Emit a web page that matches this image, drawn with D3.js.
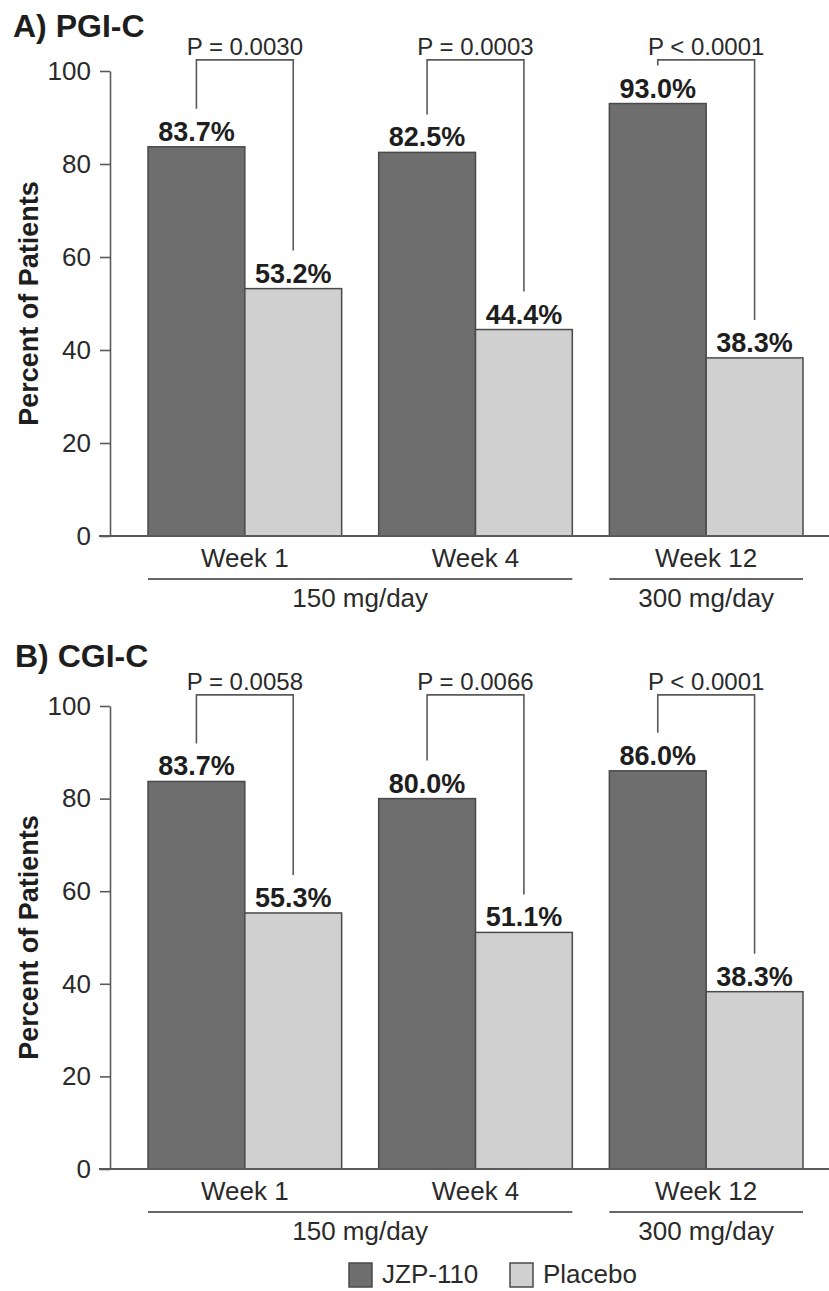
<!DOCTYPE html>
<html>
<head>
<meta charset="utf-8">
<script src="https://cdn.jsdelivr.net/npm/d3@7/dist/d3.min.js"></script>
<style>
  html, body { margin: 0; padding: 0; background: #fff; }
  svg { display: block; font-family: "Liberation Sans", Arial, sans-serif; }
</style>
</head>
<body>
<svg id="chart" width="829" height="1291"></svg>
<script>
// ---- data ----
const weeks = ["Week 1", "Week 4", "Week 12"];
const series = ["JZP-110", "Placebo"];
const yTicks = [0, 20, 40, 60, 80, 100];
const panelTitles = ["A) PGI-C", "B) CGI-C"];
const pgicJZP = [83.7, 82.5, 93.0];
const pgicPlacebo = [53.2, 44.4, 38.3];
const cgicJZP = [83.7, 80.0, 86.0];
const cgicPlacebo = [55.3, 51.1, 38.3];
const pgicP = ["P = 0.0030", "P = 0.0003", "P < 0.0001"];
const cgicP = ["P = 0.0058", "P = 0.0066", "P < 0.0001"];
const doseGroups = [
  { label: "150 mg/day", weeks: ["Week 1", "Week 4"] },
  { label: "300 mg/day", weeks: ["Week 12"] }
];
const yTitle = "Percent of Patients";

// ---- styles ----
const colors = { "JZP-110": "#6e6e6e", "Placebo": "#d0d0d0" };
const strokeCol = "#4a4a4a";
const lineCol = "#5a5a5a";
const textCol = "#1e1e1e";

const svg = d3.select("#chart");

const x = d3.scaleBand().domain(weeks).range([148, 803]).paddingInner(0.1605).paddingOuter(0);
const xs = d3.scaleBand().domain(series).range([0, x.bandwidth()]).padding(0);

const panels = [
  { title: panelTitles[0], jzp: pgicJZP, pla: pgicPlacebo, p: pgicP, top: 71, bottom: 536, titleY: 37 },
  { title: panelTitles[1], jzp: cgicJZP, pla: cgicPlacebo, p: cgicP, top: 706, bottom: 1169, titleY: 667 }
];

panels.forEach((pn, pi) => {
  const y = d3.scaleLinear().domain([0, 100]).range([pn.bottom, pn.top]);
  const g = svg.append("g");

  // title
  g.append("text").attr("x", pi === 0 ? 13 : 15).attr("y", pn.titleY)
    .attr("font-size", 32).attr("font-weight", "bold").attr("fill", textCol)
    .text(pn.title);

  // y axis
  const ax = g.append("g").attr("transform", "translate(110,0)")
    .call(d3.axisLeft(y).tickValues(yTicks).tickSize(10).tickSizeOuter(0).tickPadding(9));
  ax.select(".domain").attr("stroke", lineCol).attr("stroke-width", 1.6);
  ax.selectAll(".tick line").attr("stroke", lineCol).attr("stroke-width", 1.6);
  ax.selectAll(".tick text").attr("font-size", 26).attr("fill", "#2a2a2a")
    .attr("font-family", "'Liberation Sans', Arial, sans-serif");

  // y title
  g.append("text")
    .attr("transform", `translate(38,${(pn.top + pn.bottom) / 2}) rotate(-90)`)
    .attr("text-anchor", "middle").attr("font-size", 27).attr("font-weight", "bold")
    .attr("fill", textCol).text(yTitle);

  // bars
  const rows = weeks.map((w, i) => ({ week: w, vals: [
    { s: "JZP-110", v: pn.jzp[i] }, { s: "Placebo", v: pn.pla[i] }], p: pn.p[i] }));

  const grp = g.selectAll(".grp").data(rows).join("g")
    .attr("transform", d => `translate(${x(d.week)},0)`);

  grp.selectAll("rect").data(d => d.vals).join("rect")
    .attr("x", d => xs(d.s)).attr("width", xs.bandwidth())
    .attr("y", d => y(d.v)).attr("height", d => y(0) - y(d.v))
    .attr("fill", d => colors[d.s]).attr("stroke", strokeCol).attr("stroke-width", 1.5);

  grp.selectAll(".val").data(d => d.vals).join("text")
    .attr("x", d => xs(d.s) + xs.bandwidth() / 2).attr("y", d => y(d.v) - 6)
    .attr("text-anchor", "middle").attr("font-size", 27).attr("font-weight", "bold")
    .attr("fill", textCol).text(d => d.v.toFixed(1) + "%");

  // significance brackets
  const brTop = y(102.4);
  grp.append("path")
    .attr("d", d => {
      const x1 = xs("JZP-110") + xs.bandwidth() / 2;
      const x2 = xs("Placebo") + xs.bandwidth() / 2;
      const y1 = y(d.vals[0].v) - 38;
      const y2 = y(d.vals[1].v) - 38;
      return `M${x1},${y1}V${brTop}H${x2}V${y2}`;
    })
    .attr("fill", "none").attr("stroke", lineCol).attr("stroke-width", 1.6);

  grp.append("text")
    .attr("x", x.bandwidth() / 2).attr("y", brTop - 5)
    .attr("text-anchor", "middle").attr("font-size", 24).attr("fill", "#2a2a2a")
    .text(d => d.p);

  // baseline
  g.append("line").attr("x1", 99).attr("x2", 829).attr("y1", y(0)).attr("y2", y(0))
    .attr("stroke", lineCol).attr("stroke-width", 2);

  // week labels
  g.selectAll(".wk").data(weeks).join("text")
    .attr("x", d => x(d) + x.bandwidth() / 2).attr("y", y(0) + 31)
    .attr("text-anchor", "middle").attr("font-size", 26).attr("fill", "#2a2a2a")
    .text(d => d);

  // dose groups
  doseGroups.forEach(dg => {
    const x1 = x(dg.weeks[0]);
    const x2 = x(dg.weeks[dg.weeks.length - 1]) + x.bandwidth();
    g.append("line").attr("x1", x1).attr("x2", x2)
      .attr("y1", y(0) + 43).attr("y2", y(0) + 43)
      .attr("stroke", "#666").attr("stroke-width", 2);
    g.append("text").attr("x", (x1 + x2) / 2).attr("y", y(0) + 71)
      .attr("text-anchor", "middle").attr("font-size", 26).attr("fill", "#2a2a2a")
      .text(dg.label);
  });
});

// legend
const legendX = [349, 510];
const leg = svg.append("g");
series.forEach((s, i) => {
  leg.append("rect").attr("x", legendX[i]).attr("y", 1263).attr("width", 23).attr("height", 24)
    .attr("fill", colors[s]).attr("stroke", strokeCol).attr("stroke-width", 1.5);
  leg.append("text").attr("x", legendX[i] + 33).attr("y", 1283)
    .attr("font-size", 26).attr("fill", "#2a2a2a").text(s);
});
</script>
</body>
</html>
